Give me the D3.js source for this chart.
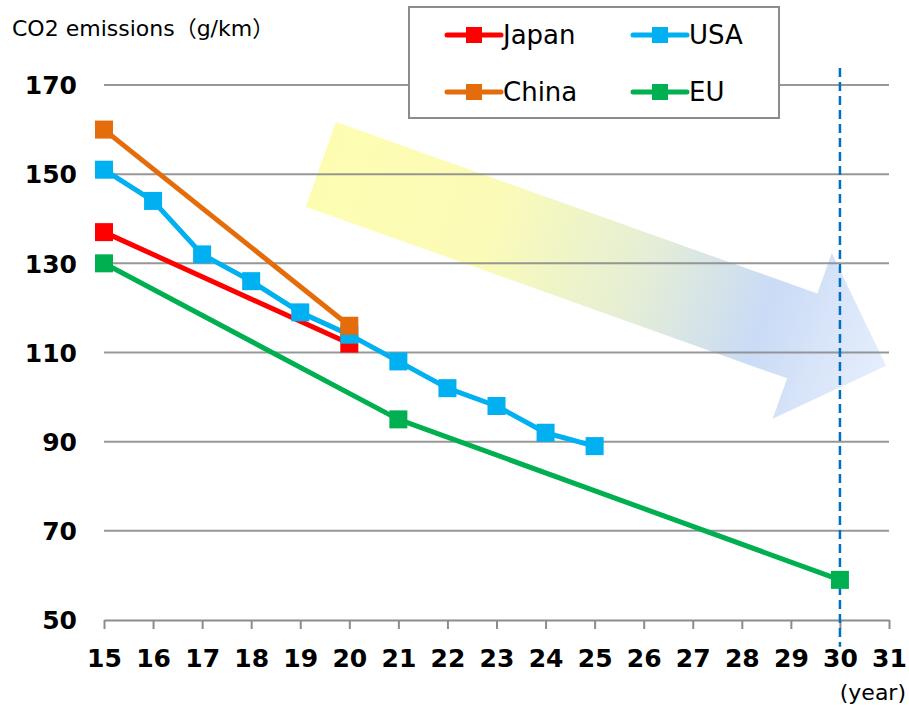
<!DOCTYPE html>
<html>
<head>
<meta charset="utf-8">
<script src="https://cdn.jsdelivr.net/npm/d3@7"></script>
<style>
  html, body { margin: 0; padding: 0; background: #fff; }
  svg { display: block; }
  text { font-family: "DejaVu Sans", Verdana, "Noto Sans CJK JP", sans-serif; fill: #000; }
</style>
</head>
<body>
<svg id="chart" width="909" height="705"></svg>
<script>
// Fuel-economy CO2 targets by region (g/km), by year (20xx)
const japanYears = [15, 20];
const japanValues = [137, 112];
const usaYears = [15, 16, 17, 18, 19, 20, 21, 22, 23, 24, 25];
const usaValues = [151, 144, 132, 126, 119, 114, 108, 102, 98, 92, 89];
const chinaYears = [15, 20];
const chinaValues = [160, 116];
const euYears = [15, 21, 30];
const euValues = [130, 95, 59];

const xTicks = [15, 16, 17, 18, 19, 20, 21, 22, 23, 24, 25, 26, 27, 28, 29, 30, 31];
const yTicks = [50, 70, 90, 110, 130, 150, 170];
const targetYear = 30;

const series = [
  { name: "Japan", color: "#FF0000", years: japanYears, values: japanValues },
  { name: "USA",   color: "#00B0F0", years: usaYears,   values: usaValues },
  { name: "China", color: "#E46C0A", years: chinaYears, values: chinaValues },
  { name: "EU",    color: "#00B050", years: euYears,    values: euValues }
];

const svg = d3.select("#chart");
const x = d3.scaleLinear().domain([15, 31]).range([104, 889]);
const y = d3.scaleLinear().domain([50, 170]).range([620, 85]);

// Decorative trend arrow with yellow-to-blue gradient
const defs = svg.append("defs");
const grad = defs.append("linearGradient").attr("id", "trendGrad")
  .attr("x1", "0%").attr("x2", "100%").attr("y1", "0%").attr("y2", "0%");
[[0, "#FDFDB2"], [0.3, "#FBFBB8"], [0.55, "#E6EFD4"], [0.78, "#CADBF6"], [1, "#E6EEFC"]]
  .forEach(([o, c]) => grad.append("stop").attr("offset", o).attr("stop-color", c));

const tail = [x(19.42), y(152.2)];
const tip = [x(30.94), y(107)];
const dx = tip[0] - tail[0], dy = tip[1] - tail[1];
const len = Math.hypot(dx, dy);
const ang = Math.atan2(dy, dx) * 180 / Math.PI;
const headLen = 89, shaftHalf = 45, headHalf = 88;
svg.append("polygon")
  .attr("transform", `translate(${tail[0]},${tail[1]}) rotate(${ang})`)
  .attr("points", [
    [0, -shaftHalf], [len - headLen, -shaftHalf], [len - headLen, -headHalf],
    [len, 0], [len - headLen, headHalf], [len - headLen, shaftHalf], [0, shaftHalf]
  ].map(p => p.join(",")).join(" "))
  .attr("fill", "url(#trendGrad)");

// Horizontal gridlines
svg.append("g").selectAll("line").data(yTicks.filter(v => v !== 50)).join("line")
  .attr("x1", x(15)).attr("x2", x(31))
  .attr("y1", d => y(d)).attr("y2", d => y(d))
  .attr("stroke", "#8C8C8C").attr("stroke-opacity", 0.9).attr("stroke-width", 2);

// Y tick labels
svg.append("g").selectAll("text").data(yTicks).join("text")
  .attr("x", 77).attr("y", d => y(d)).attr("dy", "0.37em")
  .attr("text-anchor", "end")
  .style("font-size", "25px").style("font-weight", "bold")
  .text(d => d);

// X axis
const xAxis = d3.axisBottom(x).tickValues(xTicks).tickSize(9).tickSizeOuter(0).tickFormat(d => d);
const gx = svg.append("g").attr("transform", `translate(0,${y(50)})`).call(xAxis);
gx.select(".domain").attr("stroke", "#8C8C8C").attr("stroke-width", 2);
gx.selectAll(".tick line").attr("stroke", "#8C8C8C").attr("stroke-width", 2);
gx.selectAll(".tick text")
  .attr("y", 29).attr("dy", "0.71em")
  .style("font-size", "25px").style("font-weight", "bold")
  .style("font-family", "'DejaVu Sans', Verdana, sans-serif")
  .attr("fill", "#000");

// 2030 target line
svg.append("line")
  .attr("x1", x(targetYear)).attr("x2", x(targetYear))
  .attr("y1", y(173.8)).attr("y2", y(44))
  .attr("stroke", "#0070C0").attr("stroke-width", 2.5)
  .attr("stroke-dasharray", "9,5");

// Series lines and square markers
const line = d3.line().x(d => x(d[0])).y(d => y(d[1]));
const ms = 18;
series.forEach(s => {
  const pts = s.years.map((yr, i) => [yr, s.values[i]]);
  const g = svg.append("g");
  g.append("path").datum(pts).attr("d", line)
    .attr("fill", "none").attr("stroke", s.color).attr("stroke-width", 5)
    .attr("stroke-linejoin", "round");
  g.selectAll("rect").data(pts).join("rect")
    .attr("x", d => x(d[0]) - ms / 2).attr("y", d => y(d[1]) - ms / 2)
    .attr("width", ms).attr("height", ms).attr("fill", s.color);
});

// Titles
svg.append("text").attr("x", 12).attr("y", 36)
  .style("font-size", "22px").text("CO2 emissions（g/km）");
svg.append("text").attr("x", 906).attr("y", 700).attr("text-anchor", "end")
  .style("font-size", "22px").text("(year)");

// Legend
const legend = svg.append("g");
legend.append("rect").attr("x", 409).attr("y", 7).attr("width", 370).attr("height", 111)
  .attr("fill", "#fff").attr("stroke", "#8C8C8C").attr("stroke-width", 2);
const legendPos = [[447, 35], [633, 35], [447, 92], [633, 92]];
series.forEach((s, i) => {
  const [lx, ly] = legendPos[i];
  const item = legend.append("g").attr("transform", `translate(${lx},${ly})`);
  item.append("line").attr("x1", 0).attr("x2", 54).attr("y1", 0).attr("y2", 0)
    .attr("stroke", s.color).attr("stroke-width", 5).attr("stroke-linecap", "round");
  item.append("rect").attr("x", 19).attr("y", -8).attr("width", 16).attr("height", 16).attr("fill", s.color);
  item.append("text").attr("x", 56).attr("y", 0).attr("dy", "0.36em")
    .style("font-size", "26px").text(s.name);
});
</script>
</body>
</html>
